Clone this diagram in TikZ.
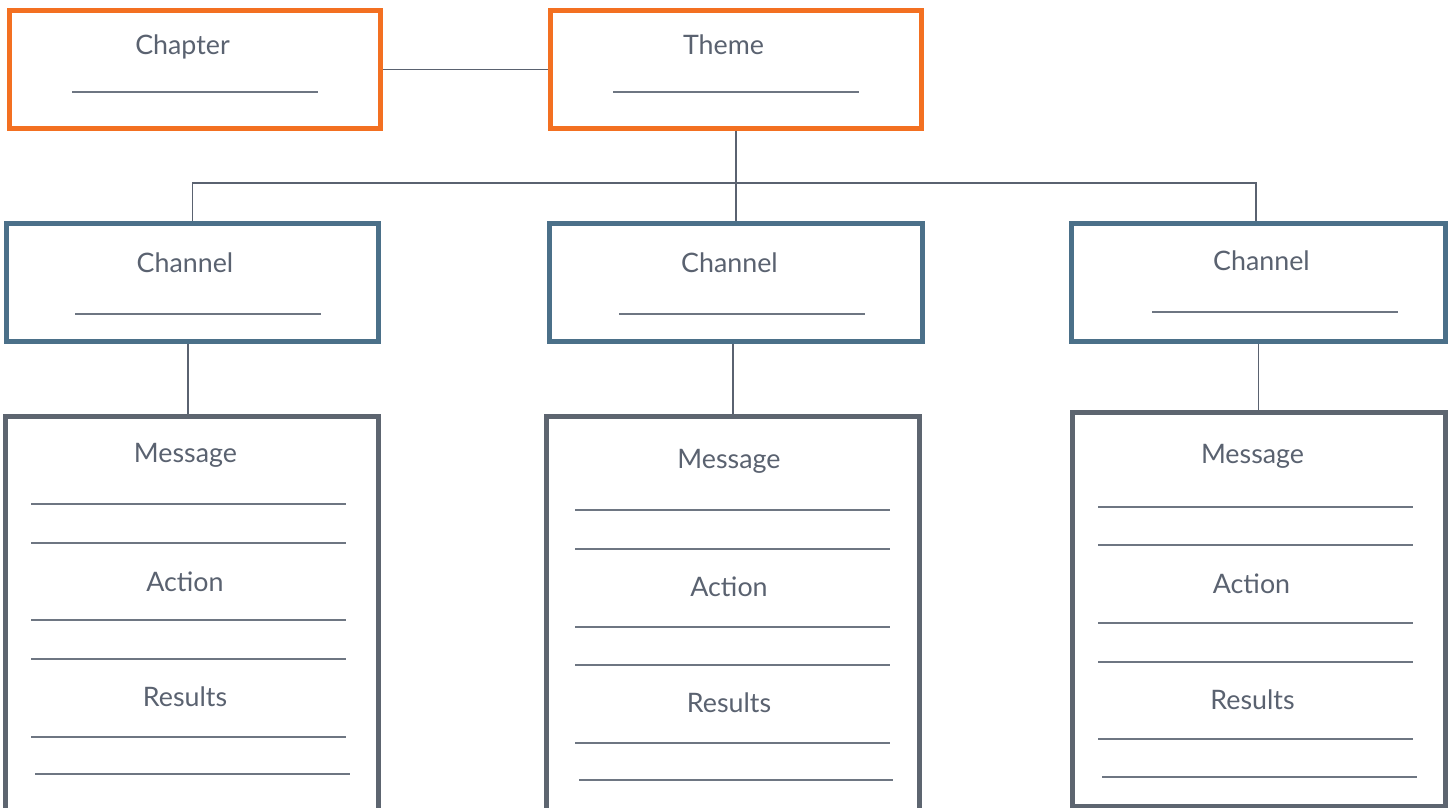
\documentclass[tikz,border=0pt]{standalone}
\usepackage{fontspec}
\setmainfont[Ligatures={Common,Rare}]{Lato}
\definecolor{orangeC}{HTML}{F37021}
\definecolor{blueC}{HTML}{4B7089}
\definecolor{grayC}{HTML}{5D6570}
\definecolor{textC}{HTML}{5A6270}
\definecolor{connC}{HTML}{5A6270}
\definecolor{ruleC}{HTML}{6E7682}
\tikzset{
  box/.style={draw, rectangle, inner sep=0pt, line width=5pt, fill=white},
  topbox/.style={box, draw=orangeC, minimum width=371.8pt, minimum height=117.4pt},
  chanbox/.style={box, draw=blueC, minimum width=373pt, minimum height=118pt},
  msgbox/.style={box, draw=grayC, minimum width=373pt},
  conn/.style={draw=connC, line width=1.2pt},
  rule/.style={draw=ruleC, line width=1.3pt},
  lbl/.style={anchor=base, text=textC, inner sep=0pt, font=\fontsize{26.8}{30}\selectfont},
}
\begin{document}
\begin{tikzpicture}[x=1pt,y=-1pt]
\useasboundingbox (0,0) rectangle (1449,808);
\clip (0,0) rectangle (1449,808);
\fill[white] (0,0) rectangle (1449,808);

% boxes
\node[topbox] (chapter) at (195,69.5) {};
\node[topbox] (theme) at (736,69.5) {};
\node[chanbox, minimum width=372.5pt] (chL) at (192.25,282.5) {};
\node[chanbox] (chM) at (736,282.5) {};
\node[chanbox, minimum width=374pt] (chR) at (1258.5,282.5) {};
\node[msgbox, minimum height=420pt] (msgL) at (192,626) {};
\node[msgbox, minimum height=420pt] (msgM) at (733,626) {};
\node[msgbox, minimum width=373.5pt, minimum height=393.5pt] (msgR) at (1258.75,609.25) {};

% connectors
\coordinate (bar) at (736,183);
\draw[conn] (chapter.east) -- (theme.west);
\draw[conn] (theme.south) -- (chM.north);
\draw[conn] (chL.north) |- (bar) -| ([xshift=-2.5pt]chR.north);
\draw[conn] ([xshift=-4.25pt]chL.south) -- ([xshift=-4.25pt]chL.south |- msgL.north);
\draw[conn] (chM.south -| msgM.north) -- (msgM.north);
\draw[conn] (chR.south) -- (chR.south |- msgR.north);

% labels
\node[lbl] (tChapter) at (182.5,55) {Chapter};
\node[lbl] (tTheme) at (723.5,55) {Theme};
\node[lbl] (tChL) at (185,272) {Channel};
\node[lbl] (tChM) at (729.5,272) {Channel};
\node[lbl] (tChR) at (1261.5,270) {Channel};
\node[lbl] (tMsgL) at (185.5,462) {Message};
\node[lbl] (tActL) at (185,591) {Action};
\node[lbl] (tResL) at (185,706) {Results};
\node[lbl] (tMsgM) at (729,468) {Message};
\node[lbl] (tActM) at (729,596) {Action};
\node[lbl] (tResM) at (729,712) {Results};
\node[lbl] (tMsgR) at (1252.5,463) {Message};
\node[lbl] (tActR) at (1251.5,593) {Action};
\node[lbl] (tResR) at (1252.5,709) {Results};

% blank rules in top boxes
\draw[rule] (72,92) -- (318,92);
\draw[rule] (613,92) -- (859,92);
\draw[rule] (75,314) -- (321,314);
\draw[rule] (619,314) -- (865,314);
\draw[rule] (1152,312) -- (1398,312);

% rules in message boxes
\foreach \y in {504,543,620,659,737} \draw[rule] (31,\y) -- (346,\y);
\draw[rule] (35,774) -- (350,774);
\foreach \y in {510,549,627,665,743} \draw[rule] (575,\y) -- (890,\y);
\draw[rule] (579,780) -- (893,780);
\foreach \y in {507,545,623,662,739} \draw[rule] (1098,\y) -- (1413,\y);
\draw[rule] (1102,777) -- (1417,777);
\end{tikzpicture}
\end{document}
